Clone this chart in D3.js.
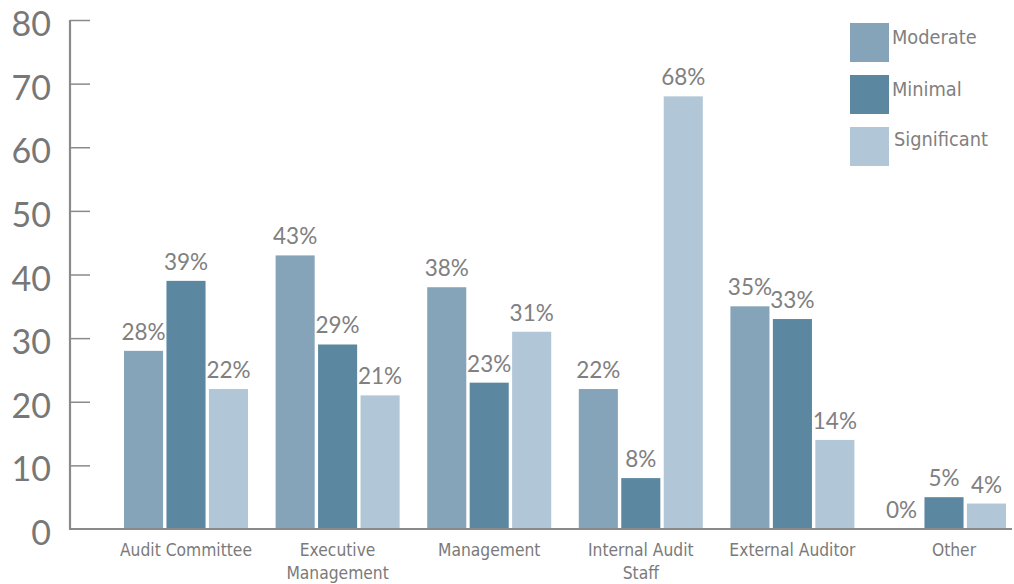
<!DOCTYPE html>
<html>
<head>
<meta charset="utf-8">
<script src="https://d3js.org/d3.v7.min.js"></script>
<style>
  html, body { margin: 0; padding: 0; background: #fff; }
  svg { display: block; }
  .ytick { font-family: "Lato", "Open Sans", sans-serif; font-size: 34px; fill: #777777; }
  .vlabel { font-family: "Lato", "Open Sans", sans-serif; font-size: 22.5px; fill: #808080; }
  .xlabel { font-family: "DejaVu Sans Condensed", "DejaVu Sans", sans-serif; font-size: 17.3px; fill: #7a7a7a; }
  .legtext { font-family: "DejaVu Sans Condensed", "DejaVu Sans", sans-serif; font-size: 19.8px; fill: #808080; }
</style>
</head>
<body>
<svg id="chart" width="1014" height="584"></svg>
<script>
// Categories (x-axis groups), one label line per array entry
const categories = [
  ["Audit Committee"],
  ["Executive", "Management"],
  ["Management"],
  ["Internal Audit", "Staff"],
  ["External Auditor"],
  ["Other"]
];
const seriesNames = ["Moderate", "Minimal", "Significant"];
const moderate    = [28, 43, 38, 22, 35, 0];
const minimal     = [39, 29, 23, 8, 33, 5];
const significant = [22, 21, 31, 68, 14, 4];
const yTicks = [0, 10, 20, 30, 40, 50, 60, 70, 80];
const colors = ["#86a4b9", "#5b87a0", "#b1c6d7"];

const seriesValues = [moderate, minimal, significant];
const svg = d3.select("#chart");

const y = d3.scaleLinear().domain([0, 80]).range([529, 20]);

const step = 151.6;
const pIn = 0.182, pOut = 0.091;
const x0 = d3.scaleBand()
  .domain(d3.range(categories.length))
  .range([124 - pOut * step, 124 - pOut * step + step * categories.length])
  .paddingInner(pIn)
  .paddingOuter(pOut);

const x1 = d3.scaleBand()
  .domain(d3.range(seriesNames.length))
  .range([0, x0.bandwidth()])
  .paddingInner(0.08);

const color = d3.scaleOrdinal().domain(seriesNames).range(colors);

// Y axis: vertical line with inward tick marks
const yAxis = d3.axisRight(y).tickValues(yTicks.filter(d => d > 0)).tickSize(20).tickFormat("");
const yg = svg.append("g").attr("transform", "translate(70,0)").call(yAxis);
yg.select(".domain").remove();
yg.selectAll(".tick line").attr("stroke", "#8a8a8a").attr("stroke-width", 1.5);

svg.append("line")
  .attr("x1", 70).attr("x2", 70)
  .attr("y1", y(80)).attr("y2", y(0))
  .attr("stroke", "#8a8a8a").attr("stroke-width", 2.2);

svg.selectAll("text.ytick")
  .data(yTicks)
  .join("text")
  .attr("class", "ytick")
  .attr("x", 51)
  .attr("y", d => y(d) + 16)
  .attr("text-anchor", "end")
  .text(d => d);

// Bars
const groups = svg.append("g").selectAll("g")
  .data(categories.map((c, i) => i))
  .join("g")
  .attr("transform", i => `translate(${x0(i)},0)`);

groups.selectAll("rect")
  .data(i => seriesNames.map((s, j) => ({ s: j, v: seriesValues[j][i] })))
  .join("rect")
  .attr("x", d => x1(d.s))
  .attr("width", x1.bandwidth())
  .attr("y", d => y(d.v))
  .attr("height", d => y(0) - y(d.v))
  .attr("fill", d => colors[d.s]);

groups.selectAll("text.vlabel")
  .data(i => seriesNames.map((s, j) => ({ s: j, v: seriesValues[j][i] })))
  .join("text")
  .attr("class", "vlabel")
  .attr("x", d => x1(d.s) + x1.bandwidth() / 2)
  .attr("y", d => y(d.v) - 11)
  .attr("text-anchor", "middle")
  .text(d => d.v + "%");

// Baseline
svg.append("line")
  .attr("x1", 69).attr("x2", 1012)
  .attr("y1", y(0)).attr("y2", y(0))
  .attr("stroke", "#8a8a8a").attr("stroke-width", 2);

// Category labels
const xl = svg.append("g").selectAll("text")
  .data(categories)
  .join("text")
  .attr("class", "xlabel")
  .attr("text-anchor", "middle")
  .attr("x", (c, i) => x0(i) + x0.bandwidth() / 2 + (i === categories.length - 1 ? 10 : 0))
  .attr("y", 556);
xl.selectAll("tspan")
  .data(c => c)
  .join("tspan")
  .attr("x", function () { return d3.select(this.parentNode).attr("x"); })
  .attr("dy", (d, k) => k === 0 ? 0 : 23)
  .text(d => d);

// Legend
const leg = svg.append("g").selectAll("g")
  .data(seriesNames)
  .join("g")
  .attr("transform", (d, i) => `translate(850,${23 + i * 52})`);
leg.append("rect")
  .attr("width", 39).attr("height", 39)
  .attr("fill", d => color(d));
leg.append("text")
  .attr("class", "legtext")
  .attr("x", (d, i) => i === 2 ? 44 : 42)
  .attr("y", (d, i) => 21 + (i === 2 ? -2 : 0))
  .text(d => d);
</script>
</body>
</html>
